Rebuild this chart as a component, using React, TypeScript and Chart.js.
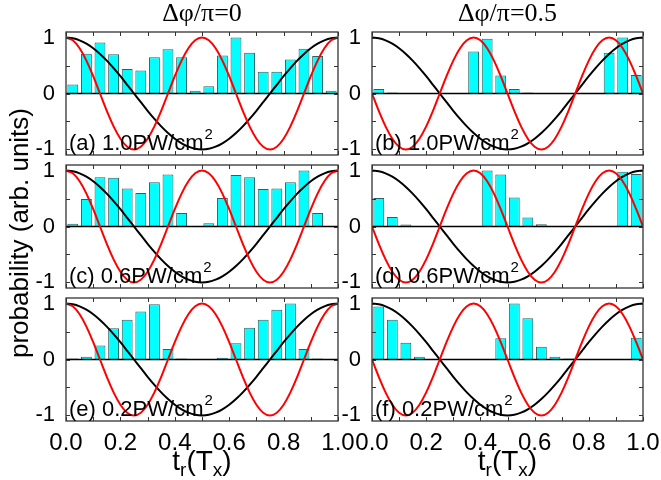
import React, { useEffect, useRef } from 'react';
import { Chart, registerables } from 'chart.js';

Chart.register(...registerables);

// ---------- data ----------
const barCenters = [
  0.025, 0.075, 0.125, 0.175, 0.225, 0.275, 0.325, 0.375, 0.425, 0.475,
  0.525, 0.575, 0.625, 0.675, 0.725, 0.775, 0.825, 0.875, 0.925, 0.975,
];
const probA = [0.16, 0.71, 0.91, 0.7, 0.44, 0.41, 0.65, 0.79, 0.65, 0.05, 0.13, 0.68, 1.0, 0.73, 0.39, 0.39, 0.61, 0.8, 0.67, 0.05];
const probB = [0.08, 0.02, 0, 0, 0, 0, 0, 0.75, 0.98, 0.32, 0.08, 0.02, 0.01, 0, 0, 0, 0, 0.73, 1.0, 0.33];
const probC = [0.05, 0.49, 0.88, 0.87, 0.68, 0.6, 0.79, 0.93, 0.24, 0.01, 0.06, 0.51, 0.92, 0.88, 0.67, 0.68, 0.79, 1.0, 0.24, 0.01];
const probD = [0.51, 0.17, 0.035, 0, 0, 0, 0, 0.01, 1.0, 0.93, 0.52, 0.16, 0.04, 0, 0, 0, 0, 0.01, 0.98, 0.94];
const probE = [0.02, 0.05, 0.25, 0.56, 0.71, 0.86, 0.99, 0.19, 0.02, 0, 0, 0.03, 0.29, 0.57, 0.71, 0.89, 1.0, 0.19, 0.02, 0];
const probF = [0.95, 0.71, 0.3, 0.05, 0, 0, 0, 0, 0, 0.38, 1.0, 0.74, 0.23, 0.05, 0.02, 0, 0, 0, 0, 0.39];

const tGrid = [
  0, 0.025, 0.05, 0.075, 0.1, 0.125, 0.15, 0.175, 0.2, 0.225,
  0.25, 0.275, 0.3, 0.325, 0.35, 0.375, 0.4, 0.425, 0.45, 0.475,
  0.5, 0.525, 0.55, 0.575, 0.6, 0.625, 0.65, 0.675, 0.7, 0.725,
  0.75, 0.775, 0.8, 0.825, 0.85, 0.875, 0.9, 0.925, 0.95, 0.975, 1,
];
const blackCurve = [
  1, 0.988, 0.951, 0.891, 0.809, 0.707, 0.588, 0.454, 0.309, 0.156,
  0, -0.156, -0.309, -0.454, -0.588, -0.707, -0.809, -0.891, -0.951, -0.988,
  -1, -0.988, -0.951, -0.891, -0.809, -0.707, -0.588, -0.454, -0.309, -0.156,
  0, 0.156, 0.309, 0.454, 0.588, 0.707, 0.809, 0.891, 0.951, 0.988, 1,
];
const redCurveLeft = [
  1, 0.951, 0.809, 0.588, 0.309, 0, -0.309, -0.588, -0.809, -0.951,
  -1, -0.951, -0.809, -0.588, -0.309, 0, 0.309, 0.588, 0.809, 0.951,
  1, 0.951, 0.809, 0.588, 0.309, 0, -0.309, -0.588, -0.809, -0.951,
  -1, -0.951, -0.809, -0.588, -0.309, 0, 0.309, 0.588, 0.809, 0.951, 1,
];
const redCurveRight = [
  0, -0.309, -0.588, -0.809, -0.951, -1, -0.951, -0.809, -0.588, -0.309,
  0, 0.309, 0.588, 0.809, 0.951, 1, 0.951, 0.809, 0.588, 0.309,
  0, -0.309, -0.588, -0.809, -0.951, -1, -0.951, -0.809, -0.588, -0.309,
  0, 0.309, 0.588, 0.809, 0.951, 1, 0.951, 0.809, 0.588, 0.309, 0,
];
const zeroLineX = [0, 1];
const zeroLineY = [0, 0];

const xTicks = [0, 0.1, 0.2, 0.3, 0.4, 0.5, 0.6, 0.7, 0.8, 0.9, 1.0];
const xTickLabels = ['0.0', '', '0.2', '', '0.4', '', '0.6', '', '0.8', '', '1.0'];
const yTicks = [-1, -0.5, 0, 0.5, 1];
const yTickLabels = ['-1', '', '0', '', '1'];

const panelLetters = ['(a)', '(b)', '(c)', '(d)', '(e)', '(f)'];
const intensities = ['1.0', '1.0', '0.6', '0.6', '0.2', '0.2'];
const unitText = 'PW/cm';
const unitSup = '2';
const columnTitles = ['\u0394\u03c6/\u03c0=0', '\u0394\u03c6/\u03c0=0.5'];
const yAxisTitle = 'probability (arb. units)';

const panelProbs = [probA, probB, probC, probD, probE, probF];

// ---------- layout ----------
const COL_X: [number, number][] = [[66, 338], [372, 643]];
const ROW_TOP = [32, 165, 298];
const PLOT_H = 123;
const Y_AXIS_W = 44;
const PAD_T = 18;
const PAD_B = 18;
const PAD_R = 30;
const X_AXIS_H = 34;
const SANS = '"Liberation Sans", Arial, Helvetica, sans-serif';

const framePlugin = {
  id: 'frameTicks',
  afterDatasetsDraw(chart: any, _args: any, opts: any) {
    const { ctx, chartArea: a, scales } = chart;
    const xs = scales.x;
    const ys = scales.y;
    ctx.save();
    ctx.strokeStyle = '#333';
    ctx.lineWidth = 1.3;
    ctx.strokeRect(a.left, a.top, a.right - a.left, a.bottom - a.top);
    ctx.beginPath();
    xTicks.forEach((v) => {
      const px = Math.round(xs.getPixelForValue(v)) + 0.5;
      ctx.moveTo(px, a.bottom);
      ctx.lineTo(px, a.bottom - 4);
      ctx.moveTo(px, a.top);
      ctx.lineTo(px, a.top + 4);
    });
    yTicks.forEach((v) => {
      const py = Math.round(ys.getPixelForValue(v)) + 0.5;
      ctx.moveTo(a.left, py);
      ctx.lineTo(a.left + 4, py);
      ctx.moveTo(a.right, py);
      ctx.lineTo(a.right - 4, py);
    });
    ctx.lineWidth = 1;
    ctx.stroke();

    // panel label
    ctx.fillStyle = '#000';
    ctx.textBaseline = 'alphabetic';
    ctx.textAlign = 'left';
    ctx.font = `22px ${SANS}`;
    const main = `${opts.letter} ${opts.intensity}${unitText}`;
    const tx = a.left + 3;
    const ty = ys.getPixelForValue(-1) + 1;
    ctx.fillText(main, tx, ty);
    const w = ctx.measureText(main).width;
    ctx.font = `15px ${SANS}`;
    ctx.fillText(unitSup, tx + w + 1, ty - 11);
    ctx.restore();
  },
};

function Panel({ idx }: { idx: number }) {
  const ref = useRef<HTMLCanvasElement | null>(null);
  const col = idx % 2;
  const row = Math.floor(idx / 2);
  const [x0, x1] = COL_X[col];
  const top = ROW_TOP[row];
  const bottomRow = row === 2;
  const xh = bottomRow ? X_AXIS_H : 0;
  const cw = Y_AXIS_W + (x1 - x0) + PAD_R;
  const chh = PAD_T + PLOT_H + xh + PAD_B;
  const left = x0 - Y_AXIS_W;
  const ctop = top - PAD_T;

  useEffect(() => {
    if (!ref.current) return;
    const probs = panelProbs[idx];
    const red = col === 0 ? redCurveLeft : redCurveRight;
    const chart = new Chart(ref.current, {
      type: 'bar',
      data: {
        datasets: [
          {
            type: 'bar',
            data: barCenters.map((x, i) => ({ x, y: probs[i] })),
            backgroundColor: '#00FFFF',
            borderColor: '#2F5F5F',
            borderWidth: 1,
            barPercentage: 0.8,
            categoryPercentage: 1,
            order: 4,
          } as any,
          {
            type: 'line',
            data: zeroLineX.map((x, i) => ({ x, y: zeroLineY[i] })),
            borderColor: '#000',
            borderWidth: 1.4,
            pointRadius: 0,
            order: 3,
          } as any,
          {
            type: 'line',
            data: tGrid.map((x, i) => ({ x, y: blackCurve[i] })),
            borderColor: '#000',
            borderWidth: 2,
            pointRadius: 0,
            tension: 0.4,
            order: 2,
          } as any,
          {
            type: 'line',
            data: tGrid.map((x, i) => ({ x, y: red[i] })),
            borderColor: '#FF0000',
            borderWidth: 2,
            pointRadius: 0,
            tension: 0.4,
            order: 1,
          } as any,
        ],
      },
      options: {
        responsive: false,
        animation: false,
        events: [],
        layout: { padding: { top: PAD_T, bottom: PAD_B, left: 0, right: PAD_R } },
        plugins: {
          legend: { display: false },
          tooltip: { enabled: false },
          frameTicks: { letter: panelLetters[idx], intensity: intensities[idx] },
        } as any,
        scales: {
          x: {
            type: 'linear',
            min: 0,
            max: 1,
            offset: false,
            grid: { display: false, offset: false },
            border: { display: false },
            afterBuildTicks: (s: any) => {
              s.ticks = xTicks.map((v) => ({ value: v }));
            },
            afterFit: (s: any) => {
              s.height = xh;
            },
            ticks: {
              display: bottomRow,
              autoSkip: false,
              maxRotation: 0,
              padding: 0,
              color: '#000',
              font: { family: SANS, size: 24 },
              callback: (_v: any, i: number) => xTickLabels[i],
            },
          },
          y: {
            type: 'linear',
            min: -1.1,
            max: 1.1,
            grid: { display: false },
            border: { display: false },
            afterBuildTicks: (s: any) => {
              s.ticks = yTicks.map((v) => ({ value: v }));
            },
            afterFit: (s: any) => {
              s.width = Y_AXIS_W;
            },
            ticks: {
              padding: 3,
              color: '#000',
              font: { family: SANS, size: 22 },
              callback: (_v: any, i: number) => yTickLabels[i],
            },
          },
        },
      },
      plugins: [framePlugin],
    } as any);
    return () => chart.destroy();
  }, [idx]);

  return (
    <canvas
      ref={ref}
      width={cw}
      height={chh}
      style={{ position: 'absolute', left, top: ctop, width: cw, height: chh }}
    />
  );
}

const subStyle: React.CSSProperties = { fontSize: 19, lineHeight: 0, verticalAlign: '-0.3em' };

export default function App() {
  return (
    <div style={{ position: 'absolute', left: 0, top: 0, width: 661, height: 480, background: '#fff', overflow: 'hidden' }}>
      {[0, 1, 2, 3, 4, 5].map((i) => (
        <Panel key={i} idx={i} />
      ))}
      {columnTitles.map((t, c) => (
        <div
          key={'ct' + c}
          style={{
            position: 'absolute',
            left: COL_X[c][0],
            width: COL_X[c][1] - COL_X[c][0],
            top: -2,
            textAlign: 'center',
            fontFamily: '"Liberation Serif", "Times New Roman", serif',
            fontSize: 26,
            lineHeight: '30px',
            color: '#000',
          }}
        >
          {t}
        </div>
      ))}
      {COL_X.map((cx, c) => (
        <div
          key={'xt' + c}
          style={{
            position: 'absolute',
            left: cx[0],
            width: cx[1] - cx[0],
            top: 446,
            height: 30,
            textAlign: 'center',
            fontFamily: SANS,
            fontSize: 28,
            lineHeight: '30px',
            color: '#000',
          }}
        >
          t<sub style={subStyle}>r</sub>(T<sub style={subStyle}>x</sub>)
        </div>
      ))}
      <div
        style={{
          position: 'absolute',
          left: 19 - 170,
          top: 233 - 15,
          width: 340,
          height: 30,
          lineHeight: '30px',
          textAlign: 'center',
          transform: 'rotate(-90deg)',
          fontFamily: SANS,
          fontSize: 26,
          color: '#000',
        }}
      >
        {yAxisTitle}
      </div>
    </div>
  );
}
